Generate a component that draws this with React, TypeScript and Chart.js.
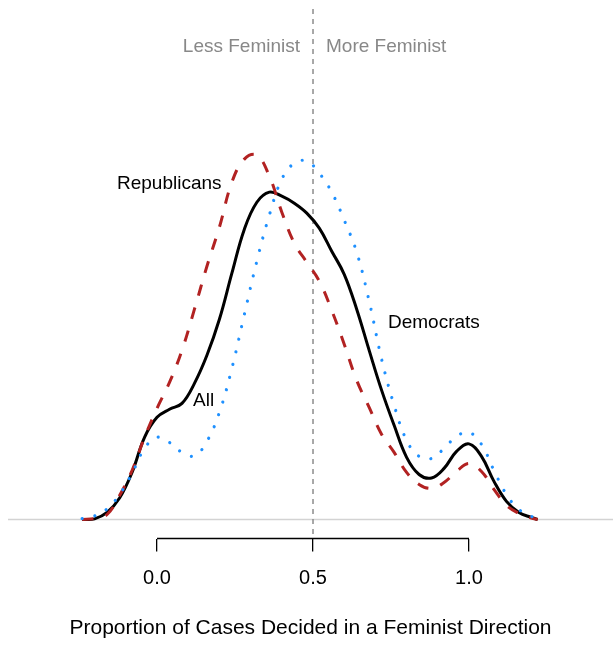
import React, { useEffect, useRef } from "react";
import { Chart, registerables } from "chart.js";

Chart.register(...registerables);

// Proportion of cases decided in a feminist direction (x grid)
const xGrid = [
  -0.24, -0.2, -0.16, -0.12, -0.08, -0.04, 0, 0.04, 0.08, 0.12, 0.16, 0.2, 0.24, 0.28, 0.32,
  0.36, 0.4, 0.44, 0.48, 0.52, 0.56, 0.6, 0.64, 0.68, 0.72, 0.76, 0.8, 0.84, 0.88, 0.92, 0.96,
  1.0, 1.04, 1.08, 1.12, 1.16, 1.2, 1.22,
];

// Kernel density estimates
const allDensity = [
  0, 0.004, 0.044, 0.134, 0.294, 0.513, 0.638, 0.688, 0.725, 0.85, 1.025, 1.25, 1.538, 1.813,
  1.981, 2.044, 2.019, 1.975, 1.913, 1.819, 1.675, 1.531, 1.313, 1.056, 0.806, 0.588, 0.388,
  0.281, 0.259, 0.319, 0.425, 0.472, 0.394, 0.238, 0.113, 0.044, 0.013, 0,
];

const republicanDensity = [
  0, 0.006, 0.031, 0.15, 0.306, 0.513, 0.694, 0.856, 1.056, 1.313, 1.581, 1.825, 2.106, 2.25,
  2.275, 2.144, 1.919, 1.725, 1.606, 1.488, 1.306, 1.094, 0.869, 0.7, 0.531, 0.419, 0.294,
  0.219, 0.194, 0.231, 0.3, 0.35, 0.3, 0.188, 0.088, 0.038, 0.009, 0,
];

const democratDensity = [
  0.006, 0.022, 0.066, 0.156, 0.288, 0.444, 0.513, 0.481, 0.419, 0.397, 0.488, 0.669, 0.944,
  1.281, 1.613, 1.9, 2.125, 2.225, 2.238, 2.163, 2.044, 1.869, 1.669, 1.363, 1.0, 0.713, 0.494,
  0.394, 0.381, 0.444, 0.519, 0.544, 0.469, 0.306, 0.156, 0.063, 0.019, 0.006,
];

const tickValues = [0, 0.5, 1.0];
const xTitle = "Proportion of Cases Decided in a Feminist Direction";
const sideLabels = ["Less Feminist", "More Feminist"];
const seriesLabels = ["All", "Republicans", "Democrats"];

const FONT = '"Liberation Sans", Arial, Helvetica, sans-serif';

export default function App() {
  const ref = useRef<HTMLCanvasElement | null>(null);

  useEffect(() => {
    if (!ref.current) return;
    Chart.defaults.font.family = FONT;

    const toPts = (ys: number[]) => xGrid.map((x, i) => ({ x, y: ys[i] }));

    const decor = {
      id: "decor",
      beforeDatasetsDraw(chart: any) {
        const { ctx, chartArea, scales } = chart;
        const xs = scales.x;
        const ys = scales.y;
        ctx.save();
        // baseline at density 0
        const y0 = ys.getPixelForValue(0);
        ctx.strokeStyle = "#d3d3d3";
        ctx.lineWidth = 1.5;
        ctx.beginPath();
        ctx.moveTo(chartArea.left, y0);
        ctx.lineTo(chartArea.right, y0);
        ctx.stroke();
        // vertical dashed divider at 0.5
        const xm = xs.getPixelForValue(0.5);
        ctx.strokeStyle = "#8c8c8c";
        ctx.lineWidth = 1.5;
        ctx.setLineDash([5, 5]);
        ctx.beginPath();
        ctx.moveTo(xm, chartArea.top);
        ctx.lineTo(xm, chartArea.bottom);
        ctx.stroke();
        ctx.restore();
      },
      afterDraw(chart: any) {
        const { ctx, chartArea, scales } = chart;
        const xs = scales.x;
        ctx.save();
        // axis line spanning the tick range
        ctx.strokeStyle = "#000";
        ctx.lineWidth = 1.3;
        ctx.beginPath();
        ctx.moveTo(xs.getPixelForValue(tickValues[0]), chartArea.bottom);
        ctx.lineTo(xs.getPixelForValue(tickValues[tickValues.length - 1]), chartArea.bottom);
        ctx.stroke();

        const xm = xs.getPixelForValue(0.5);
        ctx.font = `19px ${FONT}`;
        ctx.textBaseline = "alphabetic";
        ctx.fillStyle = "#888888";
        ctx.textAlign = "right";
        ctx.fillText(sideLabels[0], xm - 13, 51.5);
        ctx.textAlign = "left";
        ctx.fillText(sideLabels[1], xm + 13, 51.5);

        ctx.fillStyle = "#000";
        ctx.textAlign = "left";
        ctx.fillText(seriesLabels[1], 117, 189);
        ctx.fillText(seriesLabels[0], 193, 405.5);
        ctx.fillText(seriesLabels[2], 388, 327.5);
        ctx.restore();
      },
    };

    const chart = new Chart(ref.current, {
      type: "line",
      data: {
        datasets: [
          {
            label: seriesLabels[2],
            data: toPts(democratDensity),
            borderColor: "#1E90FF",
            borderWidth: 3.2,
            borderDash: [0.01, 12.99],
            borderCapStyle: "round",
            pointRadius: 0,
            tension: 0.4,
            fill: false,
          },
          {
            label: seriesLabels[1],
            data: toPts(republicanDensity),
            borderColor: "#B22222",
            borderWidth: 3,
            borderDash: [11.5, 12.5],
            borderCapStyle: "butt",
            pointRadius: 0,
            tension: 0.4,
            fill: false,
          },
          {
            label: seriesLabels[0],
            data: toPts(allDensity),
            borderColor: "#000000",
            borderWidth: 3,
            pointRadius: 0,
            tension: 0.4,
            fill: false,
          },
        ],
      },
      options: {
        animation: false,
        responsive: false,
        events: [],
        layout: { padding: { left: 8, right: 0, top: 9, bottom: 19.4 } },
        plugins: {
          legend: { display: false },
          tooltip: { enabled: false },
        },
        scales: {
          x: {
            type: "linear",
            position: "bottom",
            min: -0.4776,
            max: 1.4615,
            border: { display: false },
            grid: {
              display: true,
              drawOnChartArea: false,
              drawTicks: true,
              tickLength: 13,
              color: "#000",
              lineWidth: 1.3,
            },
            afterBuildTicks: (axis: any) => {
              axis.ticks = tickValues.map((v) => ({ value: v }));
            },
            ticks: {
              autoSkip: false,
              maxRotation: 0,
              padding: 15,
              color: "#000",
              font: { size: 20 },
              callback: (v: any) => Number(v).toFixed(1),
            },
            title: {
              display: true,
              text: xTitle,
              color: "#000",
              font: { size: 21 },
              padding: { top: 9.9, bottom: 0 },
            },
          },
          y: {
            type: "linear",
            display: false,
            min: -0.11875,
            max: 3.1875,
          },
        },
      },
      plugins: [decor],
    });

    return () => chart.destroy();
  }, []);

  return (
    <canvas
      ref={ref}
      width={613}
      height={660}
      style={{ position: "fixed", left: 0, top: 0, width: 613, height: 660 }}
    />
  );
}
